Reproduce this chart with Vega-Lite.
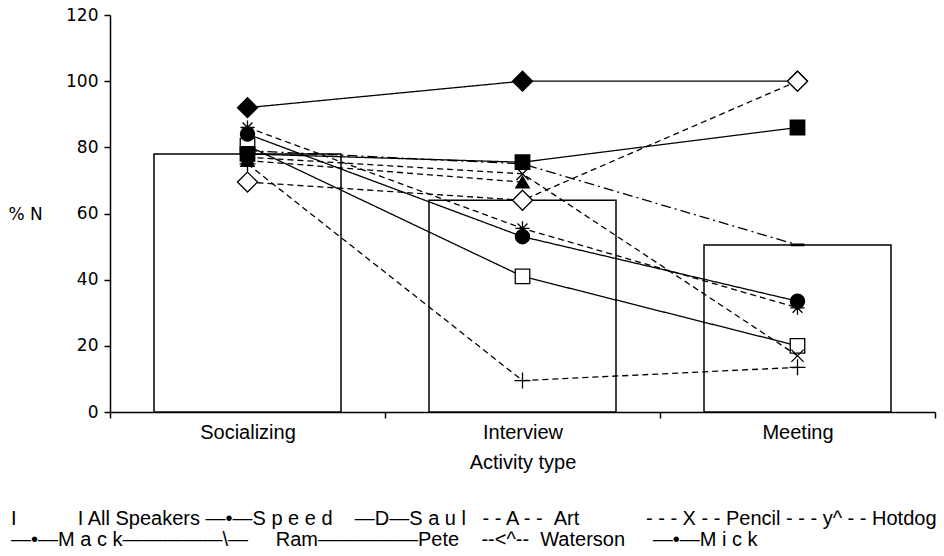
{
  "$schema": "https://vega.github.io/schema/vega-lite/v6.json",
  "autosize": "none",
  "width": 825,
  "height": 397,
  "padding": {"left": 110, "top": 15, "right": 9, "bottom": 144},
  "background": "white",
  "datasets": {
    "bars": [
      {"activity": "Socializing", "value": 78},
      {"activity": "Interview", "value": 64},
      {"activity": "Meeting", "value": 50.5}
    ],
    "speakers": [
      {"speaker": "Speed", "activity": "Socializing", "value": 92},
      {"speaker": "Speed", "activity": "Interview", "value": 100},
      {"speaker": "Speed", "activity": "Meeting", "value": 100},
      {"speaker": "Saul", "activity": "Socializing", "value": 80.5},
      {"speaker": "Saul", "activity": "Interview", "value": 41},
      {"speaker": "Saul", "activity": "Meeting", "value": 20},
      {"speaker": "Art", "activity": "Socializing", "value": 76},
      {"speaker": "Art", "activity": "Interview", "value": 69.5},
      {"speaker": "Pencil", "activity": "Socializing", "value": 77},
      {"speaker": "Pencil", "activity": "Interview", "value": 72},
      {"speaker": "Pencil", "activity": "Meeting", "value": 17},
      {"speaker": "Hotdog", "activity": "Socializing", "value": 86},
      {"speaker": "Hotdog", "activity": "Interview", "value": 55.5},
      {"speaker": "Hotdog", "activity": "Meeting", "value": 31.5},
      {"speaker": "Mack", "activity": "Socializing", "value": 78},
      {"speaker": "Mack", "activity": "Interview", "value": 75.5},
      {"speaker": "Mack", "activity": "Meeting", "value": 86},
      {"speaker": "Ram", "activity": "Socializing", "value": 75},
      {"speaker": "Ram", "activity": "Interview", "value": 9.5},
      {"speaker": "Ram", "activity": "Meeting", "value": 13.5},
      {"speaker": "Pete", "activity": "Socializing", "value": 79},
      {"speaker": "Pete", "activity": "Interview", "value": 75},
      {"speaker": "Pete", "activity": "Meeting", "value": 50.5},
      {"speaker": "Waterson", "activity": "Socializing", "value": 69.5},
      {"speaker": "Waterson", "activity": "Interview", "value": 64},
      {"speaker": "Waterson", "activity": "Meeting", "value": 100},
      {"speaker": "Mick", "activity": "Socializing", "value": 84},
      {"speaker": "Mick", "activity": "Interview", "value": 53},
      {"speaker": "Mick", "activity": "Meeting", "value": 33.5}
    ]
  },
  "title": {
    "text": [
      "I\u00a0\u00a0\u00a0\u00a0\u00a0\u00a0\u00a0\u00a0\u00a0\u00a0\u00a0I All Speakers\u00a0\u2014\u2022\u2014S p e e d\u00a0\u00a0\u00a0\u00a0\u2014D\u2014S a u l\u00a0\u00a0\u00a0- - A - -\u00a0\u00a0Art\u00a0\u00a0\u00a0\u00a0\u00a0\u00a0\u00a0\u00a0\u00a0\u00a0\u00a0\u00a0- - - X - -\u00a0Pencil\u00a0- - - y^ - -\u00a0Hotdog",
      "\u2014\u2022\u2014M a c k\u2014\u2014\u2014\u2014\u2014\\\u2014\u00a0\u00a0\u00a0\u00a0\u00a0Ram\u2014\u2014\u2014\u2014\u2014Pete\u00a0\u00a0\u00a0\u00a0--<^--\u00a0\u00a0Waterson\u00a0\u00a0\u00a0\u00a0\u00a0\u2014\u2022\u2014M i c k"
    ],
    "orient": "bottom",
    "anchor": "start",
    "frame": "group",
    "align": "left",
    "dx": -99,
    "offset": 37,
    "font": "Liberation Sans",
    "fontSize": 20,
    "fontWeight": "normal",
    "lineHeight": 21,
    "color": "black"
  },
  "config": {
    "view": {"stroke": null},
    "axis": {
      "domainColor": "black",
      "domainWidth": 1.5,
      "tickColor": "black",
      "tickWidth": 1.5,
      "labelColor": "black",
      "titleColor": "black",
      "grid": false
    }
  },
  "encoding": {
    "x": {
      "field": "activity",
      "type": "nominal",
      "sort": ["Socializing", "Interview", "Meeting"],
      "scale": {"paddingInner": 0, "paddingOuter": 0},
      "axis": {
        "title": "Activity type",
        "labelAngle": 0,
        "tickBand": "extent",
        "tickSize": 6,
        "labelPadding": 4,
        "labelFont": "Liberation Sans",
        "labelFontSize": 20,
        "titleFont": "Liberation Sans",
        "titleFontSize": 20,
        "titleFontWeight": "normal",
        "titlePadding": 10
      }
    },
    "y": {
      "field": "value",
      "type": "quantitative",
      "scale": {"domain": [0, 120]},
      "axis": {
        "title": "% N",
        "values": [0, 20, 40, 60, 80, 100, 120],
        "tickSize": 6,
        "labelPadding": 6,
        "labelFont": "DejaVu Sans",
        "labelFontSize": 17,
        "titleFont": "DejaVu Sans",
        "titleFontSize": 17,
        "titleFontWeight": "normal",
        "titleAngle": 0,
        "titleAlign": "left",
        "titleBaseline": "middle",
        "titleX": -102,
        "titleY": 199
      }
    }
  },
  "layer": [
    {
      "data": {"name": "bars"},
      "mark": {"type": "bar", "fill": "white", "stroke": "black", "strokeWidth": 1.5, "width": {"band": 0.68}}
    },
    {
      "data": {"name": "speakers"},
      "mark": {"type": "line", "color": "black", "strokeWidth": 1.3},
      "encoding": {
        "detail": {"field": "speaker"},
        "strokeDash": {
          "field": "speaker",
          "type": "nominal",
          "scale": {
            "domain": ["Speed", "Saul", "Art", "Pencil", "Hotdog", "Mack", "Ram", "Pete", "Waterson", "Mick"],
            "range": [[1, 0], [1, 0], [6, 4], [6, 4], [6, 4], [1, 0], [6, 4], [10, 4, 2, 4], [6, 4], [1, 0]]
          },
          "legend": null
        }
      }
    },
    {
      "data": {"name": "speakers"},
      "mark": {"type": "point", "filled": true, "opacity": 1, "stroke": "black", "strokeWidth": 1.3},
      "encoding": {
        "shape": {
          "field": "speaker",
          "type": "nominal",
          "scale": {
            "domain": ["Speed", "Saul", "Art", "Pencil", "Hotdog", "Mack", "Ram", "Pete", "Waterson", "Mick"],
            "range": ["diamond", "square", "triangle-up", "M-1,-1L1,1M-1,1L1,-1", "M-1,0L1,0M0,-1L0,1M-0.7,-0.7L0.7,0.7M-0.7,0.7L0.7,-0.7", "square", "M-1,0L1,0M0,-1L0,1", "M-1,-0.12L1,-0.12L1,0.12L-1,0.12Z", "diamond", "circle"]
          },
          "legend": null
        },
        "fill": {
          "field": "speaker",
          "type": "nominal",
          "scale": {
            "domain": ["Speed", "Saul", "Art", "Pencil", "Hotdog", "Mack", "Ram", "Pete", "Waterson", "Mick"],
            "range": ["black", "white", "black", "black", "black", "black", "black", "black", "white", "black"]
          },
          "legend": null
        },
        "size": {
          "field": "speaker",
          "type": "nominal",
          "scale": {
            "type": "ordinal",
            "domain": ["Speed", "Saul", "Art", "Pencil", "Hotdog", "Mack", "Ram", "Pete", "Waterson", "Mick"],
            "range": [400, 210, 180, 150, 200, 210, 256, 160, 400, 200]
          },
          "legend": null
        }
      }
    }
  ]
}
